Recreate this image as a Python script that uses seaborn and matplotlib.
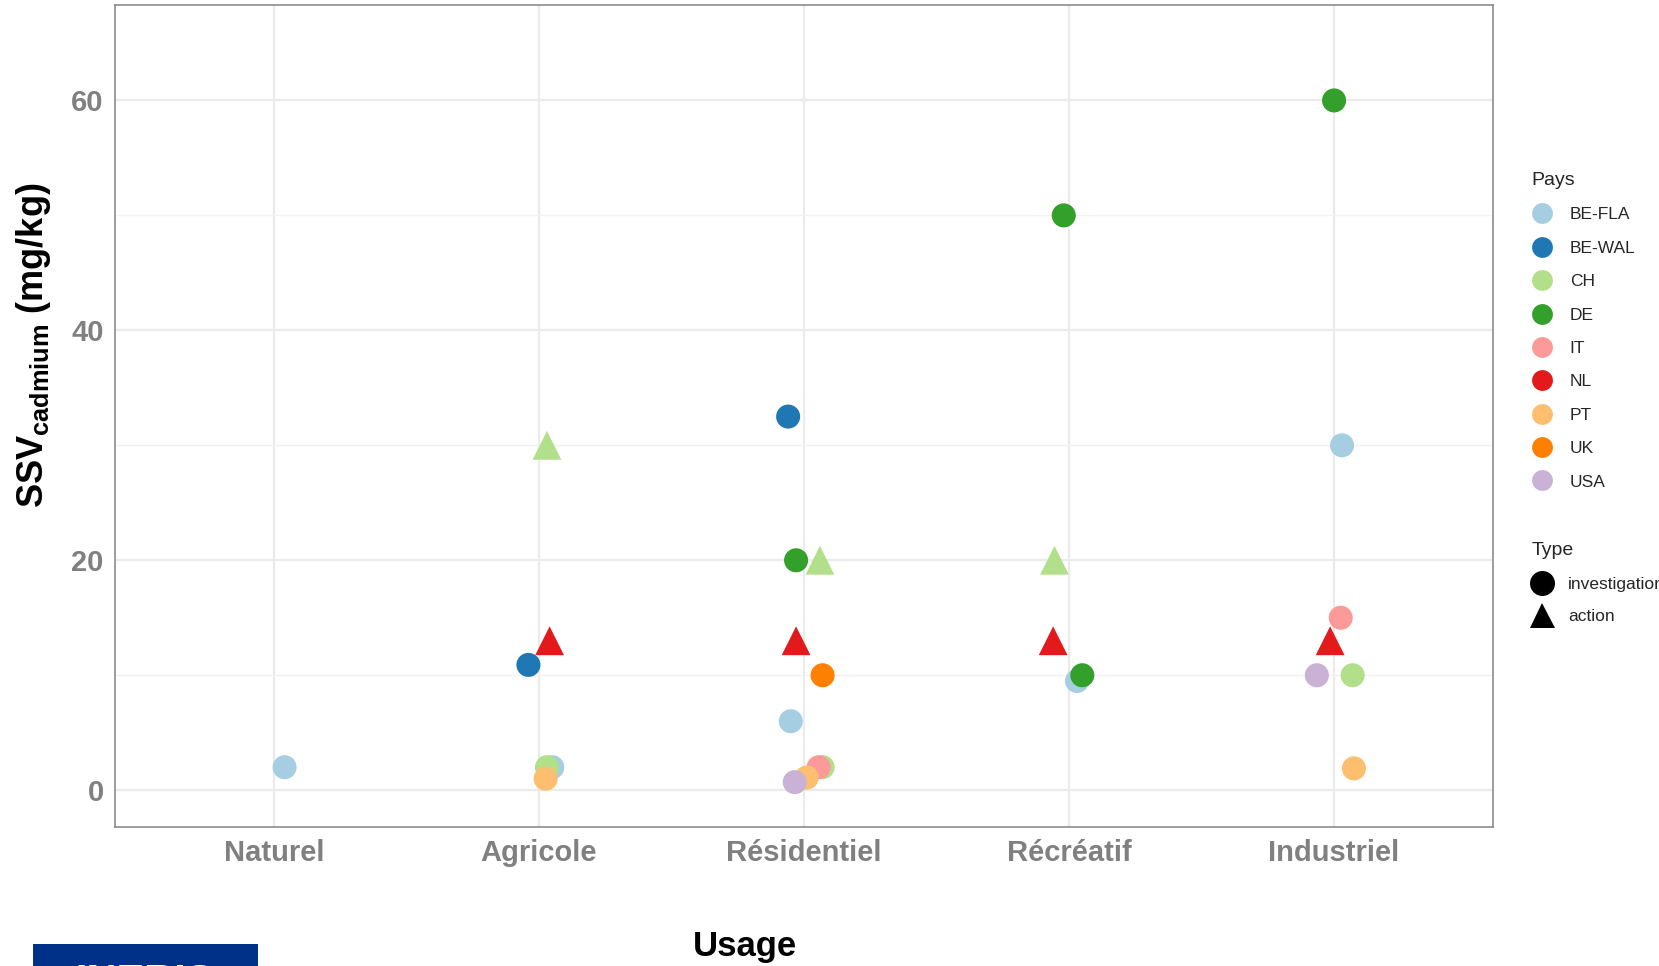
import matplotlib
matplotlib.use("Agg")
import matplotlib.pyplot as plt
import seaborn as sns
import pandas as pd
from matplotlib.lines import Line2D
from matplotlib.patches import Rectangle

# Categories and legend levels
usages = ["Naturel", "Agricole", "Résidentiel", "Récréatif", "Industriel"]
pays_levels = ["BE-FLA", "BE-WAL", "CH", "DE", "IT", "NL", "PT", "UK", "USA"]
type_levels = ["investigation", "action"]

# Points (jitter = horizontal offset seen in the picture)
usage = ["Naturel",
         "Agricole", "Agricole", "Agricole", "Agricole", "Agricole", "Agricole",
         "Résidentiel", "Résidentiel", "Résidentiel", "Résidentiel", "Résidentiel",
         "Résidentiel", "Résidentiel", "Résidentiel", "Résidentiel", "Résidentiel",
         "Récréatif", "Récréatif", "Récréatif", "Récréatif", "Récréatif",
         "Industriel", "Industriel", "Industriel", "Industriel", "Industriel",
         "Industriel", "Industriel"]
pays = ["BE-FLA",
        "CH", "NL", "BE-WAL", "BE-FLA", "CH", "PT",
        "BE-WAL", "DE", "CH", "NL", "UK", "BE-FLA", "CH", "IT", "PT", "USA",
        "DE", "CH", "NL", "BE-FLA", "DE",
        "DE", "BE-FLA", "IT", "NL", "USA", "CH", "PT"]
typ = ["investigation",
       "action", "action", "investigation", "investigation", "investigation", "investigation",
       "investigation", "investigation", "action", "action", "investigation",
       "investigation", "investigation", "investigation", "investigation", "investigation",
       "investigation", "action", "action", "investigation", "investigation",
       "investigation", "investigation", "investigation", "action", "investigation",
       "investigation", "investigation"]
ssv = [2,
       30, 13, 10.9, 2, 2, 1,
       32.5, 20, 20, 13, 10, 6, 2, 2, 1.1, 0.7,
       50, 20, 13, 9.5, 10,
       60, 30, 15, 13, 10, 10, 1.9]
jitter = [0.04,
          0.03, 0.04, -0.04, 0.05, 0.03, 0.025,
          -0.06, -0.03, 0.06, -0.03, 0.07, -0.05, 0.07, 0.055, 0.01, -0.035,
          -0.02, -0.055, -0.06, 0.03, 0.05,
          0.0, 0.03, 0.025, -0.015, -0.065, 0.07, 0.075]

df = pd.DataFrame({"Usage": usage, "Pays": pays, "Type": typ, "SSV": ssv, "jit": jitter})
df["x"] = df["Usage"].map({u: i for i, u in enumerate(usages)}) + df["jit"]

palette = dict(zip(pays_levels, sns.color_palette("Paired", 9)))
markers = {"investigation": "o", "action": "^"}
sizes = {"investigation": 300, "action": 430}

sns.set_style("whitegrid")
plt.rcParams["font.family"] = ["Liberation Sans", "DejaVu Sans"]
plt.rcParams["mathtext.fontset"] = "custom"
plt.rcParams["mathtext.rm"] = "Liberation Sans:bold"
plt.rcParams["mathtext.bf"] = "Liberation Sans:bold"
plt.rcParams["mathtext.it"] = "Liberation Sans:bold"

fig = plt.figure(figsize=(16.59, 9.66), dpi=100)
ax = fig.add_axes([0.0693, 0.1439, 0.8307, 0.8509])

sns.scatterplot(data=df, x="x", y="SSV", hue="Pays", style="Type", size="Type",
                hue_order=pays_levels, style_order=type_levels,
                palette=palette, markers=markers, sizes=sizes, linewidth=0,
                legend=False, ax=ax, zorder=3)

ax.set_xlim(-0.6, 4.6)
ax.set_ylim(-3.2, 68.3)
ax.set_xticks(range(len(usages)))
ax.set_xticklabels(usages, fontsize=21, fontweight="bold", color="#808080")
ax.set_yticks([0, 20, 40, 60])
ax.set_yticks([10, 30, 50], minor=True)
ax.tick_params(axis="y", labelsize=21, labelcolor="#808080", pad=3)
for t in ax.get_yticklabels():
    t.set_fontweight("bold")
ax.tick_params(axis="both", which="major", length=5, color="#333333", width=1.2)
ax.tick_params(axis="y", which="minor", length=0)
ax.grid(True, which="major", color="#ebebeb", linewidth=1.6)
ax.grid(True, which="minor", axis="y", color="#f2f2f2", linewidth=1.0)
for sp in ax.spines.values():
    sp.set_color("#8c8c8c")
    sp.set_linewidth(1.2)

ax.set_xlabel("")
fig.text(0.449, 0.020, "Usage", fontsize=25, fontweight="bold", color="black",
         ha="center", va="center")
ax.set_ylabel(r"SSV$_{\mathrm{cadmium}}$ (mg/kg)", fontsize=26, fontweight="bold",
              color="black")
ax.yaxis.set_label_coords(-0.045, 0.586)

# Legends
pays_handles = [Line2D([], [], marker="o", linestyle="", markersize=15,
                       markerfacecolor=palette[p], markeredgewidth=0, label=p)
                for p in pays_levels]
fig.legend(handles=pays_handles, title="Pays", loc="upper left",
           bbox_to_anchor=(0.9137, 0.838), frameon=False, fontsize=12.5,
           title_fontsize=14, labelspacing=1.05, handletextpad=1.0,
           handlelength=1.2, alignment="left")
type_handles = [Line2D([], [], marker=markers[t], linestyle="", markersize=18,
                       markerfacecolor="black", markeredgewidth=0, label=t)
                for t in type_levels]
fig.legend(handles=type_handles, title="Type", loc="upper left",
           bbox_to_anchor=(0.9137, 0.455), frameon=False, fontsize=12.5,
           title_fontsize=14, labelspacing=1.0, handletextpad=0.9,
           handlelength=1.2, alignment="left")

# INERIS logo band at the bottom left (cut off by the figure edge)
fig.patches.append(Rectangle((0.0199, 0.0), 0.1356, 0.0228, transform=fig.transFigure,
                             facecolor="#003189", edgecolor="none"))
fig.text(0.087, -0.018, "INERIS", color="white", fontsize=30, fontweight="bold",
         ha="center", va="center")

fig.savefig("out.png", dpi=100)
